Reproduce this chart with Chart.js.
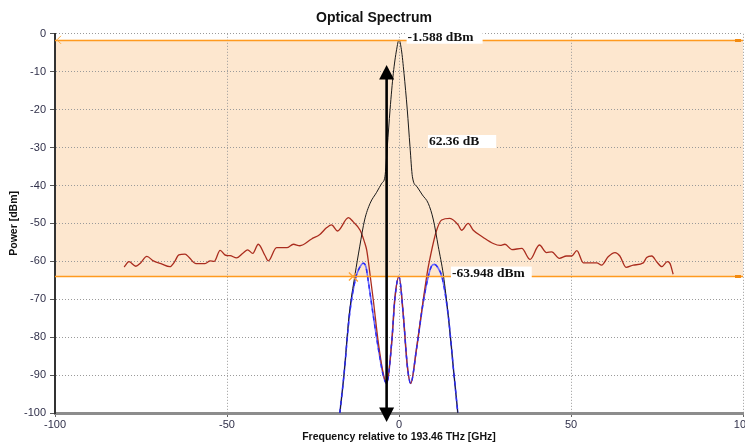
<!DOCTYPE html>
<html><head><meta charset="utf-8">
<script src="https://cdn.jsdelivr.net/npm/chart.js@4.4.1/dist/chart.umd.min.js"></script>
<style>
html,body{margin:0;padding:0;background:#fff;overflow:hidden;width:745px;height:442px}
#wrap{width:768px;height:442px;position:relative}
</style></head><body>
<div id="wrap"><canvas id="c" width="768" height="442"></canvas></div>
<script>
// ---- data (GHz relative to 193.46 THz, dBm) ----
const carrierX = [-17.2,-16,-14.5,-12.8,-11.4,-10,-8.4,-6.5,-5,-4.1,-3.4,-2.6,-1.65,-0.7,0,0.7,1.45,2.4,3.2,3.9,5.3,6.8,8.5,10,11.4,12.9,14.3,16,17.1];
const carrierY = [-100,-90,-74.2,-63.6,-56,-49.1,-44.7,-41.8,-39.4,-37.7,-29.8,-20,-10.4,-4.2,-1.588,-4.2,-10.4,-20,-29.8,-37.7,-40.4,-42.5,-44.7,-49.1,-56,-63.6,-74.2,-90,-100];

const spectrumX = [-79.9,-78.5,-76.5,-75.2,-73.3,-71.4,-69.2,-66.6,-65.3,-64,-62.2,-61,-59,-56.4,-54.9,-53.7,-52,-50.4,-49.1,-47.2,-45.3,-44,-42.5,-40.9,-39,-38,-35.6,-32.6,-30.7,-28.8,-25.4,-23,-21,-19.6,-17.9,-14.7,-13.3,-11.3,-10,-9.4,-8.4,-7.5,-6,-4.6,-3.6,-2.1,-1.2,0,1.25,2.4,3.4,5.1,7.1,8.4,9,10.8,12.4,14.8,17.2,18.2,20.1,21.6,24.5,27.4,29.4,30.8,32.8,35.7,38.1,40.8,42.9,44.4,46.6,48.7,50.2,51.7,53.6,57.5,58.9,60.8,62.8,64.2,66,68.1,71,72,73.5,74.9,76.4,78,78.8,79.7];
const spectrumY = [-61.5,-60.1,-61.3,-60.5,-58.7,-59.9,-60.6,-61.4,-60.2,-58.3,-58.1,-59,-60.6,-60.6,-59.9,-60,-57.1,-58.4,-58.5,-59.1,-57.8,-57,-57.9,-55.5,-58.4,-59.9,-56.4,-56.4,-55.5,-55.9,-54.1,-52.9,-51.1,-50.4,-52,-48.5,-49.6,-51.8,-55,-57,-63.6,-70,-81.5,-89.5,-92.2,-81.2,-69.8,-64,-74.2,-87.4,-92.2,-83,-69.8,-62,-59.2,-52.2,-49.1,-48.7,-50.4,-51.8,-50,-51.8,-53.7,-55.3,-55.8,-55.5,-56.9,-56.6,-59.5,-55.7,-57.7,-57.5,-59.2,-58.6,-58.6,-57.2,-60.4,-60.4,-61,-58.8,-57.7,-58.6,-61.6,-61,-60.4,-59,-58.6,-60.1,-61.4,-60.1,-60.6,-63.4];

const filterX = [-17.2,-16,-14.4,-12.6,-11.3,-10.4,-9.6,-8.9,-7.5,-6,-4.6,-3.6,-2.1,-1.2,0,1.25,2.4,3.4,5.1,7.1,8.5,9.5,10.3,11.2,12.6,14.3,16,17.1];
const filterY = [-100,-90,-74.2,-64.4,-61.4,-60.5,-61.5,-65.4,-74.2,-83,-90,-92.2,-81.2,-69.8,-64,-74.2,-87.4,-92.2,-83,-70.5,-64,-61.2,-60.8,-61.5,-64.5,-74.2,-90,-100];

const markerLevels = [-1.588, -63.948];
const crossMarker = [-13.4, -64];
const annText = ['-1.588 dBm', '62.36 dB', '-63.948 dBm'];
const annX = [2.5, 8.7, 15.4];
const annY = [-0.9, -28.4, -63.1];
const arrowX = -3.6;
const arrowY = [-8.2, -102.4];

const xTicks = [-100, -50, 0, 50, 100];
const yTicks = [0, -10, -20, -30, -40, -50, -60, -70, -80, -90, -100];

const zip = (xs, ys) => xs.map((x, i) => ({x, y: ys[i]}));

const overlay = {
  id: 'overlay',
  beforeDraw(chart) {
    const {ctx, chartArea: a, scales: {x, y}} = chart;
    ctx.save();
    ctx.fillStyle = '#fff';
    ctx.fillRect(a.left, a.top, a.right - a.left, a.bottom - a.top);
    const y1 = y.getPixelForValue(markerLevels[0]);
    const y2 = y.getPixelForValue(markerLevels[1]);
    ctx.fillStyle = '#fde7cf';
    ctx.fillRect(a.left, y1, a.right - a.left, y2 - y1);
    ctx.restore();
  },
  afterDatasetsDraw(chart) {
    const {ctx, chartArea: a, scales: {x, y}} = chart;
    ctx.save();
    ctx.strokeStyle = '#ff9a1f';
    ctx.lineWidth = 1.6;
    markerLevels.forEach(v => {
      const py = Math.round(y.getPixelForValue(v)) + 0.5;
      ctx.beginPath(); ctx.moveTo(a.left, py); ctx.lineTo(a.right, py); ctx.stroke();
      ctx.fillStyle = '#f28a10';
      ctx.fillRect(a.right - 8, py - 1.5, 6, 3);
    });
    const pt = y.getPixelForValue(markerLevels[0]);
    ctx.strokeStyle = '#ffab40'; ctx.lineWidth = 1;
    ctx.beginPath(); ctx.moveTo(a.left + 6, pt - 4); ctx.lineTo(a.left + 2, pt); ctx.lineTo(a.left + 6, pt + 4); ctx.stroke();
    const cx = x.getPixelForValue(crossMarker[0]), cy = y.getPixelForValue(crossMarker[1]);
    ctx.strokeStyle = '#ffa030'; ctx.lineWidth = 1.2;
    ctx.beginPath(); ctx.moveTo(cx - 4, cy - 4); ctx.lineTo(cx + 5, cy + 5); ctx.moveTo(cx - 4, cy + 4); ctx.lineTo(cx + 3, cy - 3); ctx.stroke();
    const ax = x.getPixelForValue(arrowX);
    const ay1 = y.getPixelForValue(arrowY[0]), ay2 = y.getPixelForValue(arrowY[1]);
    ctx.strokeStyle = '#000'; ctx.fillStyle = '#000'; ctx.lineWidth = 2.6;
    ctx.beginPath(); ctx.moveTo(ax, ay1 + 10); ctx.lineTo(ax, ay2 - 10); ctx.stroke();
    ctx.beginPath(); ctx.moveTo(ax, ay1); ctx.lineTo(ax - 7.5, ay1 + 14.5); ctx.lineTo(ax + 7.5, ay1 + 14.5); ctx.closePath(); ctx.fill();
    ctx.beginPath(); ctx.moveTo(ax, ay2); ctx.lineTo(ax - 7.5, ay2 - 14.5); ctx.lineTo(ax + 7.5, ay2 - 14.5); ctx.closePath(); ctx.fill();
    const pads = [10, 18, 8];
    ctx.font = 'bold 13.5px "Liberation Serif", "Times New Roman", serif';
    ctx.textBaseline = 'middle';
    ctx.textAlign = 'left';
    annText.forEach((t, i) => {
      const px = x.getPixelForValue(annX[i]);
      const py = y.getPixelForValue(annY[i]);
      const w = ctx.measureText(t).width;
      ctx.fillStyle = '#fff';
      ctx.fillRect(px - 1, py - 6.5, w + pads[i], 13);
      ctx.fillStyle = '#111';
      ctx.fillText(t, px, py + 0.5);
    });
    ctx.restore();
  }
};

const tickFont = {family: '"Liberation Sans", Arial, sans-serif', size: 11};
const tickColor = '#30304a';

new Chart(document.getElementById('c'), {
  type: 'line',
  data: {
    datasets: [
      {data: zip(filterX, filterY), borderColor: '#2a2af2', borderWidth: 1.4, borderDash: [4, 4], pointRadius: 0, cubicInterpolationMode: 'monotone'},
      {data: zip(carrierX, carrierY), borderColor: '#1a1a1a', borderWidth: 1, pointRadius: 0, cubicInterpolationMode: 'monotone'},
      {data: zip(spectrumX, spectrumY), borderColor: '#aa2c1e', borderWidth: 1.3, pointRadius: 0, cubicInterpolationMode: 'monotone'},
      {data: zip(filterX, filterY), borderColor: '#6e6eff', borderWidth: 1.6, pointRadius: 0, cubicInterpolationMode: 'monotone'}
    ]
  },
  options: {
    responsive: false,
    animation: false,
    devicePixelRatio: 1,
    layout: {padding: {left: 5, right: 25, top: 0, bottom: 0}, autoPadding: false},
    plugins: {
      legend: {display: false},
      tooltip: {enabled: false},
      title: {
        display: true, text: 'Optical Spectrum', color: '#111',
        font: {family: '"Liberation Sans", Arial, sans-serif', size: 14, weight: 'bold'},
        padding: {top: 10, bottom: 7}
      }
    },
    scales: {
      x: {
        type: 'linear', min: xTicks[0], max: xTicks[xTicks.length - 1],
        afterBuildTicks: s => { s.ticks = xTicks.map(v => ({value: v})); },
        ticks: {font: tickFont, color: tickColor, padding: 1, maxRotation: 0, autoSkip: false},
        grid: {color: '#9a9a9a', lineWidth: 1, tickLength: 4, tickColor: '#666'},
        border: {display: true, color: '#8c8c8c', width: 3, dash: [1, 2]},
        title: {display: true, text: 'Frequency relative to 193.46 THz [GHz]', color: '#111',
          font: {family: '"Liberation Sans", Arial, sans-serif', size: 10.5, weight: 'bold', lineHeight: 1},
          padding: {top: 0, bottom: 0}},
        afterFit: s => { s.height = 29; }
      },
      y: {
        type: 'linear', min: yTicks[yTicks.length - 1], max: yTicks[0],
        afterBuildTicks: s => { s.ticks = yTicks.slice().reverse().map(v => ({value: v})); },
        ticks: {font: tickFont, color: tickColor, padding: 4, autoSkip: false},
        grid: {color: '#9a9a9a', lineWidth: 1, tickLength: 5, tickColor: '#555'},
        border: {display: true, color: '#333', width: 2, dash: [1, 2]},
        title: {display: true, text: 'Power [dBm]', color: '#111',
          font: {family: '"Liberation Sans", Arial, sans-serif', size: 10.5, weight: 'bold', lineHeight: 1},
          padding: {top: 4, bottom: 0}},
        afterFit: s => { s.width = 50; }
      }
    }
  },
  plugins: [overlay]
});
</script>
</body></html>
